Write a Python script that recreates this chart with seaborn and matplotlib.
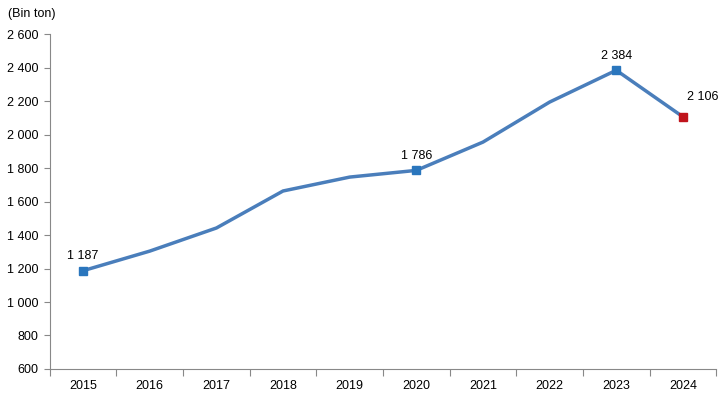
import numpy as np
import pandas as pd
import seaborn as sns
import matplotlib.pyplot as plt
from matplotlib.ticker import FixedLocator, FuncFormatter

# data
years = ['2015', '2016', '2017', '2018', '2019', '2020', '2021', '2022', '2023', '2024']
values = [1187, 1304, 1442, 1663, 1746, 1786, 1955, 2194, 2384, 2106]
labelled = ['2015', '2020', '2023', '2024']

sns.set_style('ticks')
plt.rcParams['font.family'] = ['Liberation Sans', 'DejaVu Sans']
plt.rcParams['text.color'] = 'black'
plt.rcParams['xtick.color'] = 'black'
plt.rcParams['ytick.color'] = 'black'

df = pd.DataFrame({'year': years, 'value': values})
df['pos'] = np.arange(len(years))

fig = plt.figure(figsize=(7.22, 3.94), dpi=100)
ax = fig.add_axes([0.069, 0.0635, 0.923, 0.85])

sns.lineplot(data=df, x='pos', y='value', ax=ax, color='#4a7ebb', linewidth=2.5)

# square markers on the labelled points
for _, row in df[df['year'].isin(labelled)].iterrows():
    col = '#c0141c' if row['year'] == '2024' else '#2a76bd'
    ax.plot(row['pos'], row['value'], marker='s', markersize=6, color=col, zorder=5)
    txt = '{:,}'.format(int(row['value'])).replace(',', ' ')
    if row['year'] == '2024':
        ax.annotate(txt, (row['pos'], row['value']), xytext=(14, 10), textcoords='offset points',
                    ha='center', va='bottom', fontsize=9)
    else:
        ax.annotate(txt, (row['pos'], row['value']), xytext=(0, 6), textcoords='offset points',
                    ha='center', va='bottom', fontsize=9)

ax.set_xlim(-0.5, len(years) - 0.5)
ax.set_ylim(600, 2600)
ax.set_yticks(np.arange(600, 2601, 200))
ax.yaxis.set_major_formatter(FuncFormatter(lambda v, p: '{:,}'.format(int(v)).replace(',', ' ')))
ax.set_xticks(df['pos'])
ax.set_xticklabels(years)
ax.xaxis.set_minor_locator(FixedLocator(np.arange(-0.5, len(years), 1.0)))
ax.tick_params(axis='x', which='major', bottom=True, length=0, labelsize=9, pad=8)
ax.tick_params(axis='x', which='minor', bottom=True, length=5, color='#888888', width=0.8, direction='out')
ax.tick_params(axis='y', left=True, length=4, color='#888888', width=0.8, direction='out', labelsize=9, pad=4)
ax.set_xlabel('')
ax.set_ylabel('')

for s in ['top', 'right']:
    ax.spines[s].set_visible(False)
for s in ['left', 'bottom']:
    ax.spines[s].set_color('#888888')
    ax.spines[s].set_linewidth(0.8)

fig.text(0.011, 0.965, '(Bin ton)', fontsize=9, ha='left', va='center')

fig.savefig('out.png', dpi=100)
